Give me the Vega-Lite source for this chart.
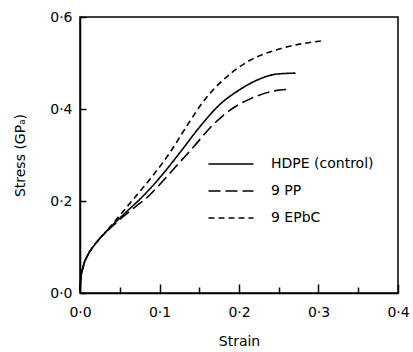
{
  "$schema": "https://vega.github.io/schema/vega-lite/v6.json",
  "width": 318,
  "height": 276,
  "autosize": {"type": "none"},
  "padding": {"left": 80, "top": 17, "right": 15, "bottom": 59},
  "background": "white",
  "config": {
    "view": {"stroke": "black", "strokeWidth": 1.5},
    "font": "DejaVu Sans",
    "axis": {"grid": false, "zindex": 1, "domainColor": "black", "domainWidth": 1.5, "ticks": true, "tickColor": "black", "tickWidth": 1.5, "labelColor": "black", "titleColor": "black", "labelFontSize": 14, "titleFontSize": 14, "titleFontWeight": "normal", "labelFont": "DejaVu Sans", "titleFont": "DejaVu Sans"}
  },
  "data": {"values": [
    {"s": "HDPE (control)", "x": 0.0, "y": 0.005},
    {"s": "HDPE (control)", "x": 0.001, "y": 0.03},
    {"s": "HDPE (control)", "x": 0.004, "y": 0.057},
    {"s": "HDPE (control)", "x": 0.01, "y": 0.083},
    {"s": "HDPE (control)", "x": 0.018, "y": 0.104},
    {"s": "HDPE (control)", "x": 0.031, "y": 0.13},
    {"s": "HDPE (control)", "x": 0.04, "y": 0.146},
    {"s": "HDPE (control)", "x": 0.055, "y": 0.171},
    {"s": "HDPE (control)", "x": 0.08, "y": 0.212},
    {"s": "HDPE (control)", "x": 0.101, "y": 0.252},
    {"s": "HDPE (control)", "x": 0.126, "y": 0.306},
    {"s": "HDPE (control)", "x": 0.151, "y": 0.362},
    {"s": "HDPE (control)", "x": 0.176, "y": 0.41},
    {"s": "HDPE (control)", "x": 0.2, "y": 0.441},
    {"s": "HDPE (control)", "x": 0.223, "y": 0.463},
    {"s": "HDPE (control)", "x": 0.248, "y": 0.476},
    {"s": "HDPE (control)", "x": 0.271, "y": 0.478},
    {"s": "9 PP", "x": 0.0, "y": 0.005},
    {"s": "9 PP", "x": 0.001, "y": 0.03},
    {"s": "9 PP", "x": 0.004, "y": 0.057},
    {"s": "9 PP", "x": 0.01, "y": 0.083},
    {"s": "9 PP", "x": 0.018, "y": 0.104},
    {"s": "9 PP", "x": 0.031, "y": 0.13},
    {"s": "9 PP", "x": 0.04, "y": 0.144},
    {"s": "9 PP", "x": 0.055, "y": 0.167},
    {"s": "9 PP", "x": 0.07, "y": 0.188},
    {"s": "9 PP", "x": 0.084, "y": 0.207},
    {"s": "9 PP", "x": 0.096, "y": 0.228},
    {"s": "9 PP", "x": 0.117, "y": 0.268},
    {"s": "9 PP", "x": 0.143, "y": 0.318},
    {"s": "9 PP", "x": 0.168, "y": 0.367},
    {"s": "9 PP", "x": 0.199, "y": 0.409},
    {"s": "9 PP", "x": 0.214, "y": 0.422},
    {"s": "9 PP", "x": 0.243, "y": 0.439},
    {"s": "9 PP", "x": 0.265, "y": 0.443},
    {"s": "9 EPbC", "x": 0.0, "y": 0.005},
    {"s": "9 EPbC", "x": 0.001, "y": 0.03},
    {"s": "9 EPbC", "x": 0.004, "y": 0.057},
    {"s": "9 EPbC", "x": 0.01, "y": 0.083},
    {"s": "9 EPbC", "x": 0.018, "y": 0.104},
    {"s": "9 EPbC", "x": 0.031, "y": 0.13},
    {"s": "9 EPbC", "x": 0.04, "y": 0.148},
    {"s": "9 EPbC", "x": 0.055, "y": 0.179},
    {"s": "9 EPbC", "x": 0.073, "y": 0.216},
    {"s": "9 EPbC", "x": 0.092, "y": 0.256},
    {"s": "9 EPbC", "x": 0.113, "y": 0.305},
    {"s": "9 EPbC", "x": 0.134, "y": 0.362},
    {"s": "9 EPbC", "x": 0.155, "y": 0.416},
    {"s": "9 EPbC", "x": 0.19, "y": 0.478},
    {"s": "9 EPbC", "x": 0.214, "y": 0.506},
    {"s": "9 EPbC", "x": 0.252, "y": 0.531},
    {"s": "9 EPbC", "x": 0.303, "y": 0.548}
  ]},
  "mark": {"type": "line", "color": "black", "strokeWidth": 1.6, "interpolate": "monotone"},
  "encoding": {
    "x": {
      "field": "x", "type": "quantitative",
      "scale": {"domain": [0, 0.4], "nice": false, "zero": false},
      "title": "Strain",
      "axis": {
        "values": [0, 0.05, 0.1, 0.15, 0.2, 0.25, 0.3, 0.35, 0.4],
        "labelExpr": "abs(datum.value*10 - round(datum.value*10)) < 0.001 ? replace(format(datum.value, '.1f'), '.', '·') : ''",
        "tickSize": {"condition": {"test": "abs(datum.value*10 - round(datum.value*10)) < 0.001", "value": -9}, "value": -6},
        "labelPadding": 21,
        "labelFlush": false,
        "labelOverlap": false,
        "titlePadding": 12
      }
    },
    "y": {
      "field": "y", "type": "quantitative",
      "scale": {"domain": [0, 0.6], "nice": false, "zero": false},
      "title": "Stress (GPₐ)",
      "axis": {
        "values": [0, 0.2, 0.4, 0.6],
        "labelExpr": "replace(format(datum.value, '.1f'), '.', '·')",
        "tickSize": -6,
        "labelPadding": 14,
        "labelFlush": false,
        "labelOverlap": false,
        "titlePadding": 22
      }
    },
    "detail": {"field": "s"},
    "strokeDash": {
      "field": "s", "type": "nominal",
      "scale": {"domain": ["HDPE (control)", "9 PP", "9 EPbC"], "range": [[1, 0], [12, 5], [6, 4]]},
      "legend": {
        "orient": "none", "legendX": 135, "legendY": 131,
        "title": null,
        "symbolType": "M-1.5,0H1.5", "symbolSize": 900, "symbolStrokeWidth": 1.5, "symbolStrokeColor": "black",
        "labelFontSize": 14, "labelColor": "black", "labelFont": "DejaVu Sans", "labelOffset": 24,
        "rowPadding": 4
      }
    }
  }
}
